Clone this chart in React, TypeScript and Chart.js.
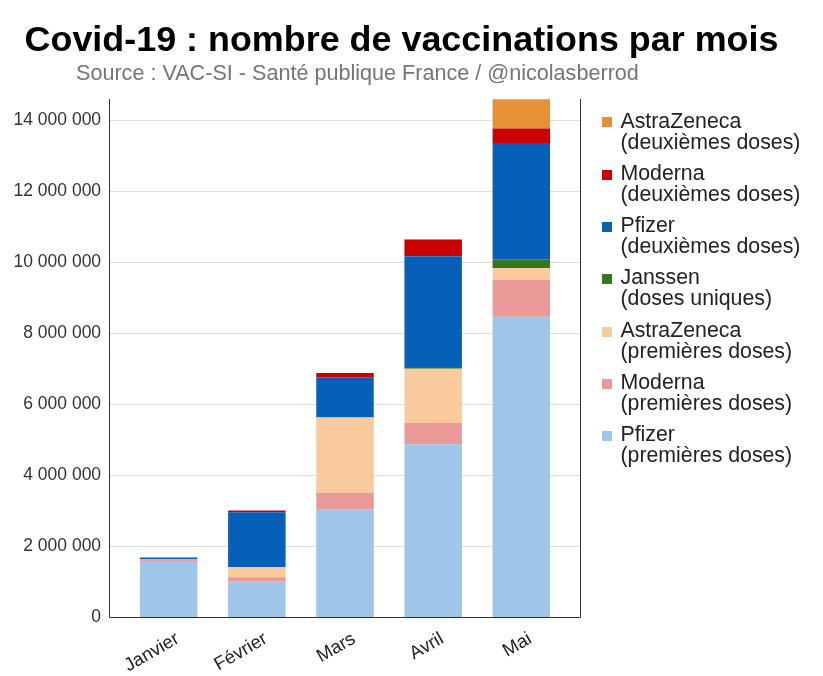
import React, { useEffect, useRef } from 'react';
import { Chart, registerables } from 'chart.js';

Chart.register(...registerables);

const FONT = "'Liberation Sans', Arial, Helvetica, sans-serif";

const months = ['Janvier', 'Février', 'Mars', 'Avril', 'Mai'];

// Stack order: bottom to top
const pfizerFirst = [1580000, 1010000, 3040000, 4870000, 8460000];
const modernaFirst = [50000, 110000, 460000, 600000, 1050000];
const astraFirst = [0, 280000, 2120000, 1530000, 330000];
const janssenSingle = [0, 0, 0, 45000, 240000];
const pfizerSecond = [50000, 1550000, 1140000, 3120000, 3280000];
const modernaSecond = [0, 50000, 120000, 470000, 410000];
const astraSecond = [0, 0, 0, 20000, 820000];

const seriesNames = [
  ['Pfizer', '(premières doses)'],
  ['Moderna', '(premières doses)'],
  ['AstraZeneca', '(premières doses)'],
  ['Janssen', '(doses uniques)'],
  ['Pfizer', '(deuxièmes doses)'],
  ['Moderna', '(deuxièmes doses)'],
  ['AstraZeneca', '(deuxièmes doses)'],
];
const seriesValues = [pfizerFirst, modernaFirst, astraFirst, janssenSingle, pfizerSecond, modernaSecond, astraSecond];
const seriesColors = ['#9fc5e8', '#ea9999', '#f9cb9c', '#38761d', '#0660b8', '#cc0000', '#e69138'];

const yMax = 14600000;
const yTickValues = [0, 2000000, 4000000, 6000000, 8000000, 10000000, 12000000, 14000000];

const formatNumber = (v: number) => String(v).replace(/\B(?=(\d{3})+(?!\d))/g, ' ');

const framePlugin = {
  id: 'frame',
  beforeDatasetsDraw(chart: any) {
    const { ctx, chartArea, scales } = chart;
    const y = scales.y;
    const left = chartArea.left - 15.3;
    const right = chartArea.right + 14.6;
    ctx.save();
    ctx.strokeStyle = '#dcdcdc';
    ctx.lineWidth = 1;
    y.ticks.forEach((t: any) => {
      if (t.value === 0) return;
      const py = Math.round(y.getPixelForValue(t.value)) + 0.5;
      ctx.beginPath();
      ctx.moveTo(left, py);
      ctx.lineTo(right, py);
      ctx.stroke();
    });
    ctx.restore();
  },
  afterDatasetsDraw(chart: any) {
    const { ctx, chartArea } = chart;
    const left = Math.round(chartArea.left - 15.3) + 0.5;
    const right = Math.round(chartArea.right + 14.6) + 0.5;
    const top = chartArea.top;
    const bottom = Math.round(chartArea.bottom) + 0.5;
    ctx.save();
    ctx.strokeStyle = '#333333';
    ctx.lineWidth = 1;
    ctx.beginPath();
    ctx.moveTo(left, top);
    ctx.lineTo(left, bottom);
    ctx.lineTo(right, bottom);
    ctx.moveTo(right, top);
    ctx.lineTo(right, bottom);
    ctx.stroke();
    ctx.restore();
  },
};

export default function App() {
  const canvasRef = useRef<HTMLCanvasElement | null>(null);

  useEffect(() => {
    if (!canvasRef.current) return;
    const chart = new Chart(canvasRef.current, {
      type: 'bar',
      data: {
        labels: months,
        datasets: seriesValues.map((vals, i) => ({
          label: seriesNames[i].join(' '),
          data: vals,
          backgroundColor: seriesColors[i],
          borderWidth: 0,
          barPercentage: 0.652,
          categoryPercentage: 1,
        })),
      },
      options: {
        animation: false,
        responsive: false,
        maintainAspectRatio: false,
        layout: { padding: { left: 0, right: 257.6, top: 99, bottom: 0 } },
        plugins: {
          legend: { display: false },
          title: { display: false },
          tooltip: { enabled: false },
        },
        scales: {
          x: {
            stacked: true,
            grid: { display: false, drawTicks: false },
            border: { display: false },
            ticks: {
              maxRotation: 30,
              minRotation: 30,
              autoSkip: false,
              padding: 11,
              labelOffset: 9,
              color: '#222222',
              font: { family: FONT, size: 18.5 },
            },
            afterFit: (scale: any) => {
              scale.height = 59;
            },
          },
          y: {
            stacked: true,
            min: 0,
            max: yMax,
            grid: { display: false, drawTicks: false },
            border: { display: false },
            ticks: {
              autoSkip: false,
              padding: 23.5,
              color: '#333333',
              font: { family: FONT, size: 17.5 },
              callback: (v: any) => formatNumber(Number(v)),
            },
            afterBuildTicks: (axis: any) => {
              axis.ticks = yTickValues.map((v) => ({ value: v }));
            },
            afterFit: (scale: any) => {
              scale.width = 124.6;
            },
          },
        },
      },
      plugins: [framePlugin],
    });
    return () => chart.destroy();
  }, []);

  const legendOrder = seriesNames.map((_, i) => i).reverse();

  return (
    <div style={{ position: 'absolute', left: 0, top: 0, width: 823, height: 676, background: '#fff', fontFamily: FONT }}>
      <canvas ref={canvasRef} width={823} height={676} style={{ position: 'absolute', left: 0, top: 0, width: 823, height: 676 }} />
      <div
        style={{
          position: 'absolute', left: 0, top: 21.5, width: 803, textAlign: 'center',
          fontSize: 35.9, lineHeight: 1, fontWeight: 'bold', color: '#000', whiteSpace: 'nowrap',
        }}
      >
        Covid-19 : nombre de vaccinations par mois
      </div>
      <div
        style={{
          position: 'absolute', left: 76, top: 62, fontSize: 21.6, lineHeight: 1, color: '#757575', whiteSpace: 'nowrap',
        }}
      >
        Source : VAC-SI - Santé publique France / @nicolasberrod
      </div>
      {legendOrder.map((idx, k) => (
        <div key={idx} style={{ position: 'absolute', left: 602, top: 110.5 + k * 52.33, width: 221 }}>
          <div style={{ position: 'absolute', left: 0, top: 6.8, width: 10, height: 10, background: seriesColors[idx] }} />
          <div style={{ position: 'absolute', left: 18.5, top: 0, fontSize: 21.3, lineHeight: '21px', color: '#222', whiteSpace: 'nowrap' }}>
            {seriesNames[idx][0]}
            <br />
            {seriesNames[idx][1]}
          </div>
        </div>
      ))}
    </div>
  );
}
